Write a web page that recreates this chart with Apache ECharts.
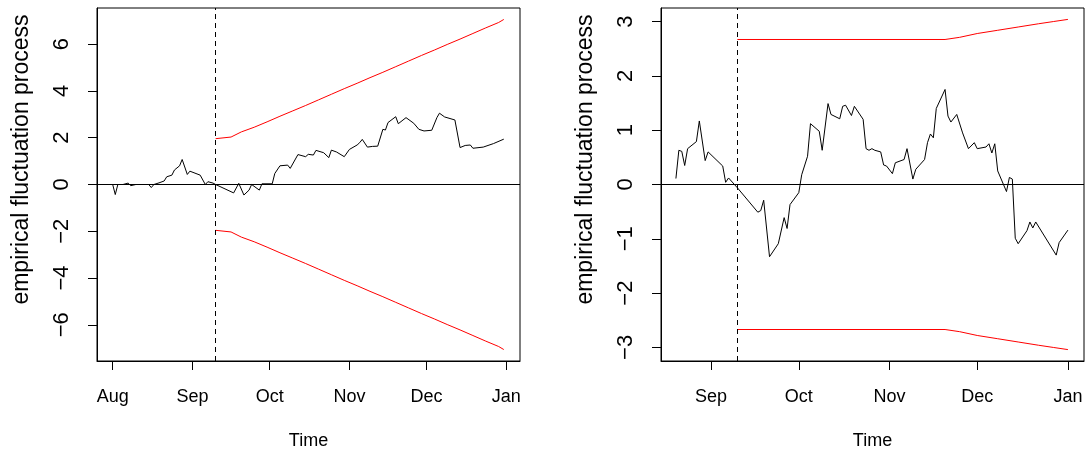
<!DOCTYPE html>
<html>
<head>
<meta charset="utf-8">
<script src="https://cdn.jsdelivr.net/npm/echarts@6/dist/echarts.min.js"></script>
<style>
html,body{margin:0;padding:0;background:#fff;}
#chart{width:1092px;height:457px;}
</style>
</head>
<body>
<div id="chart"></div>
<script>
// x values are days since 1 August
var leftMonthDays = [0, 31, 61, 92, 122, 153];
var leftMonthLabels = ['Aug', 'Sep', 'Oct', 'Nov', 'Dec', 'Jan'];
var rightMonthDays = [31, 61, 92, 122, 153];
var rightMonthLabels = ['Sep', 'Oct', 'Nov', 'Dec', 'Jan'];
var leftYTicks = [-6, -4, -2, 0, 2, 4, 6];
var rightYTicks = [-3, -2, -1, 0, 1, 2, 3];
var monitorStartDay = 40; // 10 September

// left panel: empirical fluctuation process
var leftDay = [0,1,2,4,6,7,9,14,15,16,18,20,21,23,24,26,27,29,30,34,36,37,39,40,
  47,49,51,53,54,57,58,62,63,65,68,69,72,75,76,78,79,82,84,85,87,90,92,95,96,97,99,101,103,
  105,106,107,110,111,114,117,119,121,124,126,127,129,133,135,137,139,140,144,148,152];
var leftVal = [0.0,-0.43,0.0,0.0,0.06,-0.05,0.0,0.0,-0.13,0.0,0.07,0.15,0.33,0.4,0.62,0.8,1.07,0.43,0.57,0.4,0.0,0.12,0.06,0.0,
  -0.36,0.05,-0.45,-0.24,0.0,-0.24,0.03,0.03,0.47,0.8,0.83,0.69,1.28,1.19,1.29,1.26,1.46,1.36,1.15,1.47,1.39,1.19,1.5,1.69,1.79,1.93,1.6,1.63,1.64,
  2.36,2.33,2.65,2.9,2.6,2.86,2.62,2.36,2.29,2.32,2.86,3.05,2.89,2.76,1.58,1.67,1.69,1.55,1.6,1.75,1.94];
// left panel: boundaries
var leftBoundDay = [40,46,50,55,60,65,70,75,80,85,90,95,100,105,110,115,120,125,130,135,140,145,150,152];
var leftUpper = [1.96,2.03,2.25,2.45,2.68,2.92,3.15,3.38,3.62,3.86,4.1,4.33,4.57,4.8,5.04,5.28,5.52,5.75,5.99,6.22,6.46,6.7,6.93,7.06];
var leftLower = [-1.96,-2.03,-2.25,-2.45,-2.68,-2.92,-3.15,-3.38,-3.62,-3.86,-4.1,-4.33,-4.57,-4.8,-5.04,-5.28,-5.52,-5.75,-5.99,-6.22,-6.46,-6.7,-6.93,-7.06];

// right panel: empirical fluctuation process
var rightDay = [19,20,21,22,23,26,27,29,30,35,36,37,40,47,48,49,51,54,56,57,58,61,62,64,65,68,69,71,72,75,76,77,79,80,83,
  84,85,86,87,89,90,91,93,94,97,98,100,101,104,105,106,107,108,111,112,113,115,117,119,121,122,125,126,127,128,129,
  132,133,134,135,136,139,140,141,142,149,150,153];
var rightVal = [0.11,0.63,0.61,0.35,0.66,0.79,1.17,0.44,0.6,0.34,0.04,0.12,-0.06,-0.51,-0.48,-0.29,-1.33,-1.09,-0.61,-0.81,-0.37,-0.15,0.18,0.52,1.12,0.98,0.63,1.49,1.29,1.21,1.44,1.46,1.27,1.44,1.2,
  0.66,0.63,0.66,0.63,0.6,0.36,0.34,0.2,0.4,0.46,0.66,0.1,0.28,0.46,0.77,0.93,0.86,1.4,1.75,1.26,1.15,1.29,0.95,0.66,0.77,0.66,0.69,0.75,0.58,0.75,0.25,
  -0.13,0.13,0.1,-0.99,-1.09,-0.85,-0.69,-0.8,-0.69,-1.3,-1.07,-0.84];
// right panel: boundaries
var rightBoundDay = [40,111,116,122,129,136,143,148,153];
var rightUpper = [2.67,2.67,2.71,2.78,2.84,2.9,2.96,3.0,3.04];
var rightLower = [-2.67,-2.67,-2.71,-2.78,-2.84,-2.9,-2.96,-3.0,-3.04];

function zip(xs, ys) { return xs.map(function (x, i) { return [x, ys[i]]; }); }
var FONT = "'Liberation Sans', Arial, Helvetica, sans-serif";
function numFmt(v) { return v < 0 ? '\u2212' + Math.abs(v) : String(v); }

function makeX(idx, min, max, days, labels) {
  return {
    type: 'value', gridIndex: idx, min: min, max: max,
    axisLine: { show: true, onZero: false, lineStyle: { color: '#000', width: 1 } },
    axisTick: { show: true, inside: false, length: 9, customValues: days, lineStyle: { color: '#000', width: 1 } },
    axisLabel: {
      customValues: days, color: '#000', fontSize: 18, fontFamily: FONT, margin: 27,
      formatter: function (v) { var i = days.indexOf(v); return i >= 0 ? labels[i] : ''; }
    },
    splitLine: { show: false },
    name: 'Time', nameLocation: 'middle', nameGap: 71,
    nameTextStyle: { color: '#000', fontSize: 18, fontFamily: FONT }
  };
}
function makeY(idx, min, max, ticks) {
  return {
    type: 'value', gridIndex: idx, min: min, max: max,
    axisLine: { show: true, onZero: false, lineStyle: { color: '#000', width: 1 } },
    axisTick: { show: true, inside: false, length: 9, customValues: ticks, lineStyle: { color: '#000', width: 1 } },
    axisLabel: { customValues: ticks, rotate: 90, color: '#000', fontSize: 22, fontFamily: FONT, margin: 24, formatter: numFmt },
    splitLine: { show: false },
    name: 'empirical fluctuation process', nameLocation: 'middle', nameGap: 64, nameRotate: 90,
    nameTextStyle: { color: '#000', fontSize: 23, fontFamily: FONT, padding: [0, 0, 0, 50] }
  };
}
function refLines() {
  return {
    silent: true, symbol: ['none', 'none'], label: { show: false }, animation: false,
    data: [
      { yAxis: 0, lineStyle: { color: '#000', width: 1, type: 'solid' } },
      { xAxis: monitorStartDay, lineStyle: { color: '#000', width: 1, type: [5, 4] } }
    ]
  };
}
function lineSeries(xi, data, color, withRefs) {
  var s = {
    type: 'line', xAxisIndex: xi, yAxisIndex: xi, data: data, showSymbol: false, symbol: 'none',
    lineStyle: { color: color, width: 1 }, itemStyle: { color: color }, z: 3
  };
  if (withRefs) s.markLine = refLines();
  return s;
}

var chart = echarts.init(document.getElementById('chart'), null, { renderer: 'canvas' });
chart.setOption({
  animation: false,
  backgroundColor: '#fff',
  grid: [
    { left: 97, right: 572, top: 8, bottom: 96, show: true, borderColor: '#000', borderWidth: 1, backgroundColor: 'transparent' },
    { left: 661, right: 8, top: 8, bottom: 96, show: true, borderColor: '#000', borderWidth: 1, backgroundColor: 'transparent' }
  ],
  xAxis: [
    makeX(0, -6.1, 158.3, leftMonthDays, leftMonthLabels),
    makeX(1, 13.9, 158.5, rightMonthDays, rightMonthLabels)
  ],
  yAxis: [
    makeY(0, -7.55, 7.55, leftYTicks),
    makeY(1, -3.25, 3.25, rightYTicks)
  ],
  series: [
    lineSeries(0, zip(leftDay, leftVal), '#000', true),
    lineSeries(0, zip(leftBoundDay, leftUpper), '#ff0000', false),
    lineSeries(0, zip(leftBoundDay, leftLower), '#ff0000', false),
    lineSeries(1, zip(rightDay, rightVal), '#000', true),
    lineSeries(1, zip(rightBoundDay, rightUpper), '#ff0000', false),
    lineSeries(1, zip(rightBoundDay, rightLower), '#ff0000', false)
  ]
});
</script>
</body>
</html>
